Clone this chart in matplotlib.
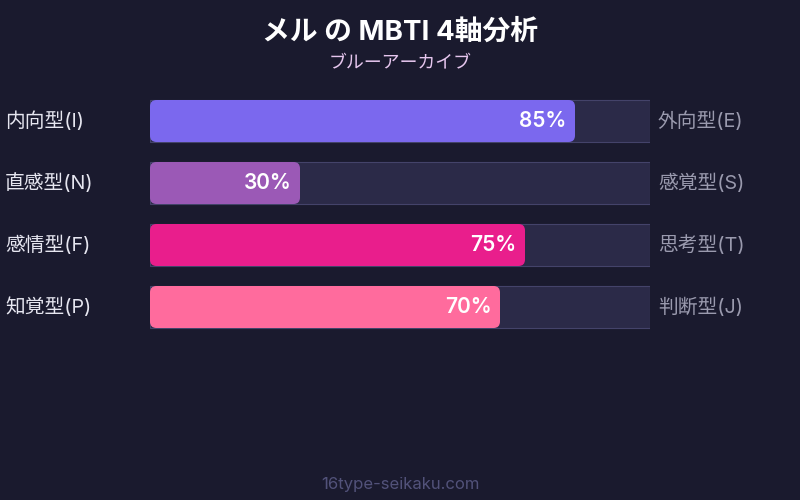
import numpy as np
import matplotlib
matplotlib.use('Agg')
import matplotlib.pyplot as plt
from matplotlib.patches import FancyBboxPatch, Rectangle
import matplotlib.transforms as mtransforms

plt.rcParams['font.family'] = ['Inter', 'Noto Sans CJK JP', 'DejaVu Sans']

# data
title = 'メル の MBTI 4軸分析'
subtitle = 'ブルーアーカイブ'
left_labels = ['内向型(I)', '直感型(N)', '感情型(F)', '知覚型(P)']
right_labels = ['外向型(E)', '感覚型(S)', '思考型(T)', '判断型(J)']
values = [85, 30, 75, 70]
bar_colors = ['#7b68ee', '#9b59b6', '#e91e8c', '#ff6b9d']
footer = '16type-seikaku.com'

bg = '#1a1a2e'
fig = plt.figure(figsize=(8, 5), dpi=100, facecolor=bg)

# axes: x from 150px to 650px, rows 62px apart starting at y=90px
ax = fig.add_axes([150 / 800, 1 - 338 / 500, 500 / 800, 248 / 500])
ax.set_facecolor('none')
ax.set_xlim(0, 100)
ax.set_ylim(len(values) - 0.5, -0.5)
ax.axis('off')

h = 42 / 62
aspect = (100 / 500) / (1 / 62)  # x-units per px / y-units per px
for i, (v, c) in enumerate(zip(values, bar_colors)):
    ax.add_patch(Rectangle((0, i - h / 2), 100, h, facecolor='#2b2a48',
                           edgecolor='#44436a', lw=0.8, zorder=1))
    ax.add_patch(FancyBboxPatch((0, i - h / 2), v, h,
                                boxstyle='round,pad=0,rounding_size=1.3',
                                mutation_aspect=1 / aspect,
                                facecolor=c, edgecolor='none', zorder=2))
    ax.annotate(f'{v}%', xy=(v, i), xytext=(-6, 0), textcoords='offset points',
                ha='right', va='center', color='white', fontsize=15,
                fontweight='semibold', zorder=3)

trans = mtransforms.blended_transform_factory(fig.transFigure, ax.transData)
for i, (l, r) in enumerate(zip(left_labels, right_labels)):
    ax.text(5 / 800, i, l, transform=trans, ha='left', va='center',
            color='#e6e6f0', fontsize=14.2, clip_on=False)
    ax.text(658 / 800, i, r, transform=trans, ha='left', va='center',
            color='#9a9aae', fontsize=14.2, clip_on=False)

fig.text(0.5, 1 - 33 / 500, title, ha='center', va='center', color='white',
         fontsize=20, fontweight='bold')
fig.text(0.5, 1 - 63 / 500, subtitle, ha='center', va='center',
         color='#e6c6ee', fontsize=12.9)
fig.text(0.5, 1 - 484 / 500, footer, ha='center', va='center',
         color='#52527a', fontsize=12)

fig.savefig('out.png', dpi=100, facecolor=bg)
